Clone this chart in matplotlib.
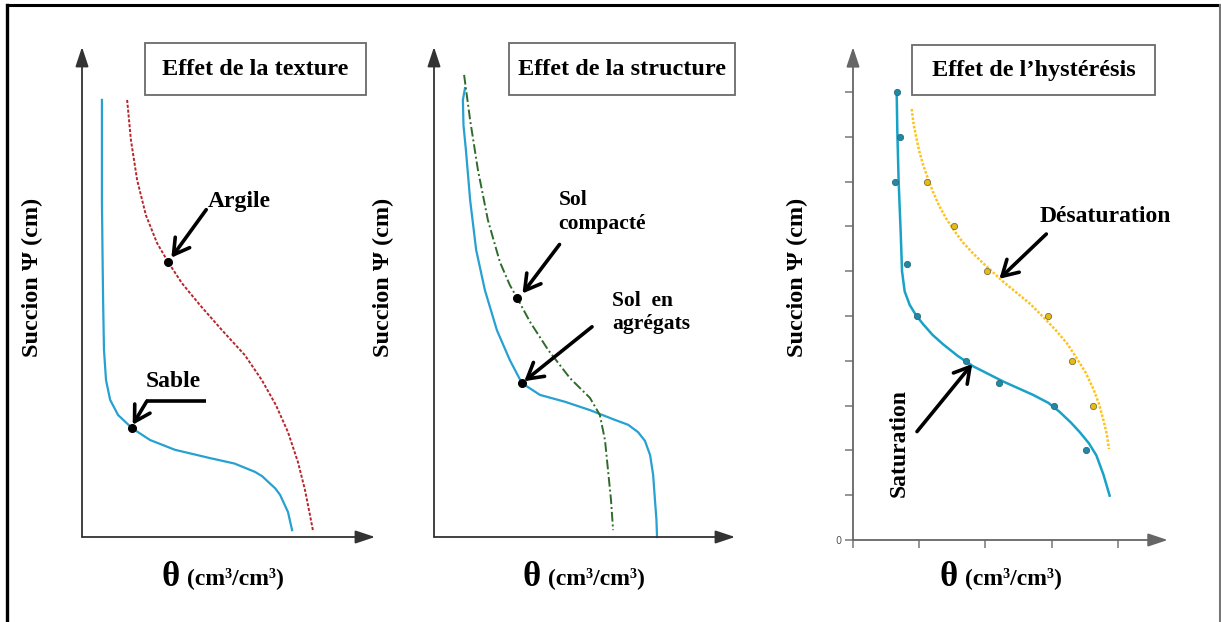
import matplotlib
matplotlib.use("Agg")
import matplotlib.pyplot as plt
from matplotlib.lines import Line2D
from matplotlib.patches import Rectangle

SERIF = "Liberation Serif"
W, H = 1221, 622

# ---- Effet de la texture (theta, psi normalised to the axis length)
sable_theta = [0.068, 0.068, 0.070, 0.072, 0.075, 0.082, 0.096, 0.123, 0.171,
               0.232, 0.317, 0.437, 0.520, 0.590, 0.615, 0.640, 0.660, 0.676,
               0.703, 0.717]
sable_psi = [0.892, 0.688, 0.580, 0.484, 0.382, 0.320, 0.280, 0.249, 0.222,
             0.198, 0.178, 0.161, 0.150, 0.133, 0.124, 0.110, 0.099, 0.086,
             0.051, 0.014]
argile_theta = [0.154, 0.167, 0.188, 0.218, 0.256, 0.294, 0.341, 0.403, 0.478,
                0.556, 0.614, 0.662, 0.703, 0.737, 0.761, 0.778, 0.788]
argile_psi = [0.892, 0.810, 0.729, 0.657, 0.600, 0.561, 0.518, 0.473, 0.422,
              0.371, 0.320, 0.269, 0.214, 0.153, 0.096, 0.045, 0.014]
texture_marks = {"Argile": (0.294, 0.561), "Sable": (0.171, 0.222)}

# ---- Effet de la structure
agregats_theta = [0.103, 0.096, 0.098, 0.106, 0.120, 0.140, 0.169, 0.209, 0.252,
                  0.292, 0.352, 0.435, 0.518, 0.601, 0.645, 0.678, 0.701, 0.718,
                  0.728, 0.734, 0.739, 0.741]
agregats_psi = [0.916, 0.892, 0.840, 0.790, 0.688, 0.586, 0.504, 0.422, 0.361,
                0.314, 0.290, 0.276, 0.259, 0.239, 0.229, 0.214, 0.196, 0.167,
                0.127, 0.076, 0.035, 0.0]
compacte_theta = [0.100, 0.120, 0.146, 0.179, 0.219, 0.252, 0.276, 0.319, 0.379,
                  0.452, 0.518, 0.551, 0.568, 0.578, 0.588, 0.595]
compacte_psi = [0.943, 0.851, 0.749, 0.647, 0.561, 0.514, 0.488, 0.439, 0.382,
                0.324, 0.284, 0.249, 0.198, 0.137, 0.076, 0.014]
structure_marks = {"compacte": (0.276, 0.488), "agregats": (0.292, 0.314)}

# ---- Effet de l'hysteresis (tick units)
sat_pts_theta = [0.66, 0.71, 0.64, 0.82, 0.97, 1.70, 2.20, 3.04, 3.52]
sat_pts_psi = [10.0, 9.0, 8.0, 6.15, 5.0, 4.0, 3.5, 3.0, 2.0]
sat_theta = [0.659, 0.669, 0.689, 0.720, 0.740, 0.780, 0.855, 0.950, 1.057,
             1.200, 1.359, 1.580, 1.811, 2.264, 2.717, 2.950, 3.119, 3.290,
             3.421, 3.560, 3.673, 3.780, 3.874]
sat_psi = [10.02, 9.13, 8.0, 6.86, 6.00, 5.55, 5.25, 5.02, 4.82,
           4.58, 4.37, 4.11, 3.88, 3.54, 3.24, 3.06, 2.86, 2.62,
           2.41, 2.16, 1.89, 1.46, 0.99]
desat_pts_theta = [1.12, 1.53, 2.02, 2.94, 3.30, 3.62]
desat_pts_psi = [8.0, 7.0, 6.0, 5.0, 4.0, 3.0]
desat_theta = [0.886, 0.915, 0.956, 1.000, 1.057, 1.130, 1.208, 1.300, 1.409,
               1.530, 1.660, 1.810, 1.962, 2.264, 2.667, 2.870, 3.069, 3.230,
               3.371, 3.510, 3.623, 3.710, 3.774, 3.830, 3.864]
desat_psi = [9.62, 9.28, 8.98, 8.68, 8.38, 8.07, 7.77, 7.46, 7.17,
             6.90, 6.64, 6.40, 6.18, 5.77, 5.28, 4.98, 4.67, 4.39,
             4.07, 3.74, 3.39, 3.05, 2.71, 2.37, 2.03]
hyst_xticks = [0, 1, 2, 3, 4]
hyst_yticks = list(range(11))

BLUE = "#27a0d2"
BLUE3 = "#19a2c8"


def panel_axes(fig, x0, y0, x1, y1):
    # x0/x1: y-axis and arrow tip columns, y0/y1: x-axis and arrow tip rows (px)
    return fig.add_axes([x0 / W, (H - y0) / H, (x1 - x0) / W, (y0 - y1) / H])


def axis_arrows(ax, xmax, ymax, color):
    for tip in ((xmax, 0), (0, ymax)):
        ax.annotate("", xy=tip, xytext=(0, 0), annotation_clip=False,
                    arrowprops=dict(arrowstyle="-|>,head_length=1.2,head_width=0.4",
                                    color=color, lw=1.3, mutation_scale=10,
                                    shrinkA=0, shrinkB=0, facecolor="black"))


def pointer(ax, tail, head):
    ax.annotate("", xy=head, xytext=tail, annotation_clip=False,
                arrowprops=dict(arrowstyle="->,head_length=0.55,head_width=0.32",
                                color="black", lw=2.6, mutation_scale=20,
                                shrinkA=0, shrinkB=0))


def title_box(ax, x0, x1, y0, y1, text):
    ax.add_patch(Rectangle((x0, y0), x1 - x0, y1 - y0, fill=False,
                           edgecolor="#6a6a6a", lw=1.3, clip_on=False))
    ax.text((x0 + x1) / 2, (y0 + y1) / 2, text, ha="center", va="center",
            family=SERIF, weight="bold", fontsize=17.5, clip_on=False)


def bare(ax, xmax, ymax):
    ax.set_xlim(0, xmax)
    ax.set_ylim(0, ymax)
    for s in ax.spines.values():
        s.set_visible(False)
    ax.patch.set_alpha(0)


def axis_labels(fig, ylab_x, theta_x):
    fig.text(ylab_x / W, 1 - 277 / H, "Succion \u03a8 (cm)", rotation=90,
             ha="center", va="center", family=SERIF, weight="bold", fontsize=17.5)
    fig.text(theta_x / W, 1 - 578 / H, "\u03b8", ha="right", va="center",
             family=SERIF, weight="bold", fontsize=25)
    fig.text((theta_x + 7) / W, 1 - 578 / H, "(cm\u00b3/cm\u00b3)", ha="left",
             va="center", family=SERIF, weight="bold", fontsize=17)


fig = plt.figure(figsize=(W / 100, H / 100), dpi=100)

# outer frame (open at the bottom)
fig.add_artist(Line2D([7 / W, 7 / W], [0, 1 - 5 / H], color="black", lw=2.4))
fig.add_artist(Line2D([7 / W, 1220 / W], [1 - 5 / H, 1 - 5 / H], color="black", lw=2.2))
fig.add_artist(Line2D([1219.5 / W, 1219.5 / W], [0, 1 - 5 / H], color="#777777", lw=1.5))

# ---- panel 1
ax1 = panel_axes(fig, 82, 537, 375, 47)
bare(ax1, 1, 1)
ax1.set_xticks([])
ax1.set_yticks([])
axis_arrows(ax1, 1, 1, "#333333")
ax1.plot(sable_theta, sable_psi, color=BLUE, lw=1.6, clip_on=False)
ax1.plot(argile_theta, argile_psi, color="#b8262b", lw=1.4, ls=(0, (1.6, 0.9)),
         clip_on=False)
for name, (tx, py) in texture_marks.items():
    ax1.plot(tx, py, "o", color="black", ms=5.5, zorder=5)
title_box(ax1, 0.215, 0.968, 0.902, 1.008, "Effet de la texture")
ax1.text(0.43, 0.684, "Argile", ha="left", va="center", family=SERIF,
         weight="bold", fontsize=17)
pointer(ax1, (0.424, 0.668), (0.305, 0.570))
ax1.text(0.31, 0.318, "Sable", ha="center", va="center", family=SERIF,
         weight="bold", fontsize=17)
ax1.plot([0.219, 0.424], [0.277, 0.277], color="black", lw=2.6,
         solid_capstyle="butt")
pointer(ax1, (0.221, 0.277), (0.173, 0.229))
axis_labels(fig, 32, 180)

# ---- panel 2
ax2 = panel_axes(fig, 434, 537, 735, 47)
bare(ax2, 1, 1)
ax2.set_xticks([])
ax2.set_yticks([])
axis_arrows(ax2, 1, 1, "#333333")
ax2.plot(agregats_theta, agregats_psi, color=BLUE, lw=1.6, clip_on=False)
ax2.plot(compacte_theta, compacte_psi, color="#2f6b2a", lw=1.4,
         ls=(0, (5, 1.5, 1, 1.5)), clip_on=False)
for name, (tx, py) in structure_marks.items():
    ax2.plot(tx, py, "o", color="black", ms=5.5, zorder=5)
title_box(ax2, 0.248, 1.0, 0.902, 1.008, "Effet de la structure")
ax2.text(0.413, 0.664, "Sol\ncompact\u00e9", ha="left", va="center", family=SERIF,
         weight="bold", fontsize=15.5, linespacing=1.25)
pointer(ax2, (0.417, 0.597), (0.294, 0.497))
ax2.text(0.592, 0.458, "Sol  en\nagr\u00e9gats", ha="left", va="center",
         family=SERIF, weight="bold", fontsize=15.5, linespacing=1.25)
pointer(ax2, (0.525, 0.429), (0.300, 0.318))
axis_labels(fig, 383, 541)

# ---- panel 3
ax3 = panel_axes(fig, 853, 540, 853 + 4.75 * 66.25, 540 - 11.0 * 44.8)
bare(ax3, 4.75, 11.0)
ax3.set_xticks(hyst_xticks)
ax3.set_xticklabels([])
ax3.set_yticks(hyst_yticks)
ax3.set_yticklabels(["0"] + [""] * 10, fontsize=7, color="#555555",
                    family="DejaVu Sans")
ax3.tick_params(axis="both", length=6, width=1.1, color="#777777", pad=2)
axis_arrows(ax3, 4.75, 11.0, "#666666")
ax3.plot(sat_theta, sat_psi, color=BLUE3, lw=1.8, clip_on=False)
ax3.plot(desat_theta, desat_psi, color="#ffc21a", lw=1.8, ls=(0, (1, 0.7)),
         clip_on=False)
ax3.plot(sat_pts_theta, sat_pts_psi, "o", color="#1f8aa6", mec="#2f6a7a",
         ms=4.5, mew=0.6, zorder=5)
ax3.plot(desat_pts_theta, desat_pts_psi, "o", color="#e8bb10", mec="#7a6e4a",
         ms=4.5, mew=0.6, zorder=5)
title_box(ax3, 0.89, 4.56, 9.93, 11.05, "Effet de l\u2019hyst\u00e9r\u00e9sis")
ax3.text(2.82, 7.21, "D\u00e9saturation", ha="left", va="center", family=SERIF,
         weight="bold", fontsize=17)
pointer(ax3, (2.918, 6.83), (2.21, 5.83))
ax3.text(0.70, 2.17, "Saturation", rotation=90, ha="center", va="center",
         family=SERIF, weight="bold", fontsize=17)
pointer(ax3, (0.966, 2.42), (1.80, 3.93))
axis_labels(fig, 797, 958)

fig.savefig("out.png", dpi=100)
